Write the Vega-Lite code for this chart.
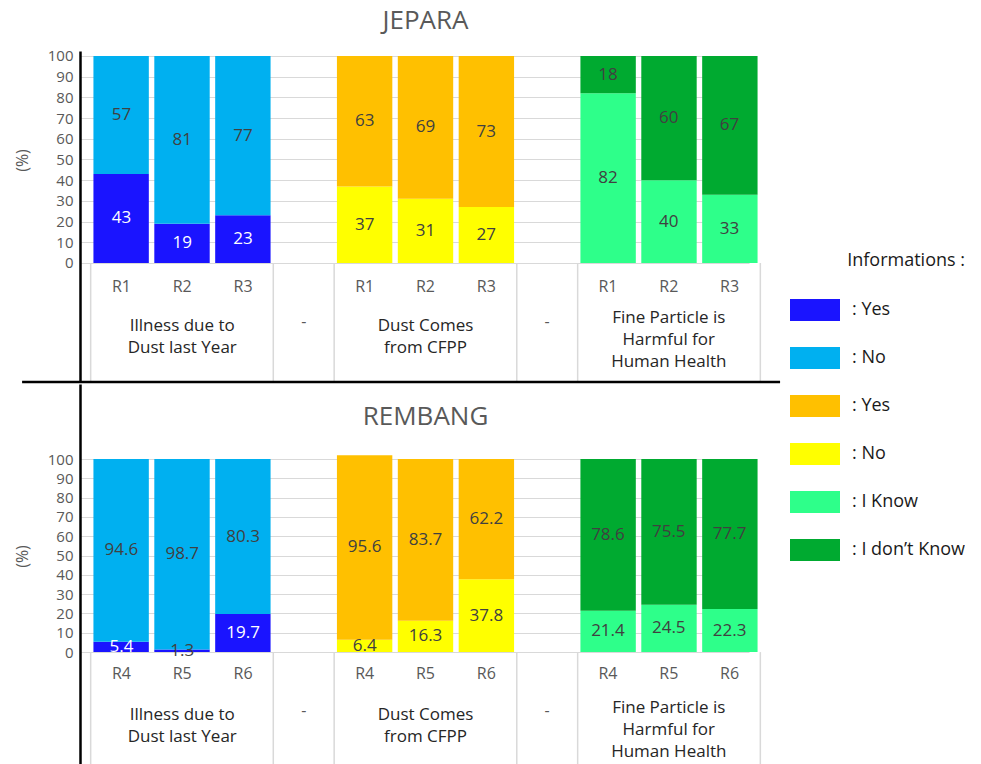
{
  "$schema": "https://vega.github.io/schema/vega-lite/v6.json",
  "padding": {"left": 14, "top": 7, "right": 0, "bottom": 0},
  "spacing": 0,
  "datasets": {
    "bars": [
      {"panel": "JEPARA", "slot": "Illness 1", "site": "R1", "answer": "Illness: Yes", "segment": "bottom", "value": 43},
      {"panel": "JEPARA", "slot": "Illness 1", "site": "R1", "answer": "Illness: No", "segment": "top", "value": 57},
      {"panel": "JEPARA", "slot": "Illness 2", "site": "R2", "answer": "Illness: Yes", "segment": "bottom", "value": 19},
      {"panel": "JEPARA", "slot": "Illness 2", "site": "R2", "answer": "Illness: No", "segment": "top", "value": 81},
      {"panel": "JEPARA", "slot": "Illness 3", "site": "R3", "answer": "Illness: Yes", "segment": "bottom", "value": 23},
      {"panel": "JEPARA", "slot": "Illness 3", "site": "R3", "answer": "Illness: No", "segment": "top", "value": 77},
      {"panel": "JEPARA", "slot": "CFPP 1", "site": "R1", "answer": "CFPP: No", "segment": "bottom", "value": 37},
      {"panel": "JEPARA", "slot": "CFPP 1", "site": "R1", "answer": "CFPP: Yes", "segment": "top", "value": 63},
      {"panel": "JEPARA", "slot": "CFPP 2", "site": "R2", "answer": "CFPP: No", "segment": "bottom", "value": 31},
      {"panel": "JEPARA", "slot": "CFPP 2", "site": "R2", "answer": "CFPP: Yes", "segment": "top", "value": 69},
      {"panel": "JEPARA", "slot": "CFPP 3", "site": "R3", "answer": "CFPP: No", "segment": "bottom", "value": 27},
      {"panel": "JEPARA", "slot": "CFPP 3", "site": "R3", "answer": "CFPP: Yes", "segment": "top", "value": 73},
      {"panel": "JEPARA", "slot": "Health 1", "site": "R1", "answer": "Health: I Know", "segment": "bottom", "value": 82},
      {"panel": "JEPARA", "slot": "Health 1", "site": "R1", "answer": "Health: I don’t Know", "segment": "top", "value": 18},
      {"panel": "JEPARA", "slot": "Health 2", "site": "R2", "answer": "Health: I Know", "segment": "bottom", "value": 40},
      {"panel": "JEPARA", "slot": "Health 2", "site": "R2", "answer": "Health: I don’t Know", "segment": "top", "value": 60},
      {"panel": "JEPARA", "slot": "Health 3", "site": "R3", "answer": "Health: I Know", "segment": "bottom", "value": 33},
      {"panel": "JEPARA", "slot": "Health 3", "site": "R3", "answer": "Health: I don’t Know", "segment": "top", "value": 67},
      {"panel": "REMBANG", "slot": "Illness 1", "site": "R4", "answer": "Illness: Yes", "segment": "bottom", "value": 5.4},
      {"panel": "REMBANG", "slot": "Illness 1", "site": "R4", "answer": "Illness: No", "segment": "top", "value": 94.6},
      {"panel": "REMBANG", "slot": "Illness 2", "site": "R5", "answer": "Illness: Yes", "segment": "bottom", "value": 1.3},
      {"panel": "REMBANG", "slot": "Illness 2", "site": "R5", "answer": "Illness: No", "segment": "top", "value": 98.7},
      {"panel": "REMBANG", "slot": "Illness 3", "site": "R6", "answer": "Illness: Yes", "segment": "bottom", "value": 19.7},
      {"panel": "REMBANG", "slot": "Illness 3", "site": "R6", "answer": "Illness: No", "segment": "top", "value": 80.3},
      {"panel": "REMBANG", "slot": "CFPP 1", "site": "R4", "answer": "CFPP: No", "segment": "bottom", "value": 6.4},
      {"panel": "REMBANG", "slot": "CFPP 1", "site": "R4", "answer": "CFPP: Yes", "segment": "top", "value": 95.6},
      {"panel": "REMBANG", "slot": "CFPP 2", "site": "R5", "answer": "CFPP: No", "segment": "bottom", "value": 16.3},
      {"panel": "REMBANG", "slot": "CFPP 2", "site": "R5", "answer": "CFPP: Yes", "segment": "top", "value": 83.7},
      {"panel": "REMBANG", "slot": "CFPP 3", "site": "R6", "answer": "CFPP: No", "segment": "bottom", "value": 37.8},
      {"panel": "REMBANG", "slot": "CFPP 3", "site": "R6", "answer": "CFPP: Yes", "segment": "top", "value": 62.2},
      {"panel": "REMBANG", "slot": "Health 1", "site": "R4", "answer": "Health: I Know", "segment": "bottom", "value": 21.4},
      {"panel": "REMBANG", "slot": "Health 1", "site": "R4", "answer": "Health: I don’t Know", "segment": "top", "value": 78.6},
      {"panel": "REMBANG", "slot": "Health 2", "site": "R5", "answer": "Health: I Know", "segment": "bottom", "value": 24.5},
      {"panel": "REMBANG", "slot": "Health 2", "site": "R5", "answer": "Health: I don’t Know", "segment": "top", "value": 75.5},
      {"panel": "REMBANG", "slot": "Health 3", "site": "R6", "answer": "Health: I Know", "segment": "bottom", "value": 22.3},
      {"panel": "REMBANG", "slot": "Health 3", "site": "R6", "answer": "Health: I don’t Know", "segment": "top", "value": 77.7}
    ],
    "groups": [
      {"slot": "Illness 2", "label": "Illness due to\nDust last Year"},
      {"slot": "CFPP 2", "label": "Dust Comes\nfrom CFPP"},
      {"slot": "Health 2", "label": "Fine Particle is\nHarmful for\nHuman Health"}
    ],
    "gaps": [
      {"slot": "gap1", "label": "-"},
      {"slot": "gap2", "label": "-"}
    ],
    "seps": [
      {"slot": "Illness 1", "edge": "start"},
      {"slot": "gap1", "edge": "start"},
      {"slot": "CFPP 1", "edge": "start"},
      {"slot": "gap2", "edge": "start"},
      {"slot": "Health 1", "edge": "start"},
      {"slot": "Health 3", "edge": "end"}
    ]
  },
  "vconcat": [
    {
      "title": {"text": "JEPARA"},
      "width": 669,
      "height": 331,
      "resolve": {"scale": {"x": "independent"}},
      "layer": [
        {
          "data": {"name": "bars"},
          "transform": [{"filter": "datum.panel === 'JEPARA'"}],
          "mark": {"type": "bar"},
          "encoding": {
            "x": {"field": "slot", "type": "nominal", "axis": null, "scale": {"domain": ["Illness 1","Illness 2","Illness 3","gap1","CFPP 1","CFPP 2","CFPP 3","gap2","Health 1","Health 2","Health 3"], "paddingInner": 0.09, "paddingOuter": 0.04}},
            "y": {"field": "value", "type": "quantitative", "stack": "zero", "scale": {"domain": [-57.5, 102.4], "nice": false, "zero": false}, "axis": {"title": "(%)", "values": [0,10,20,30,40,50,60,70,80,90,100], "titleX": -58, "titleY": 109}},
            "color": {"field": "answer", "type": "nominal", "scale": {"domain": ["Illness: Yes","Illness: No","CFPP: Yes","CFPP: No","Health: I Know","Health: I don’t Know"], "range": ["#1a14ff","#00b0f0","#ffc000","#ffff00","#2eff8a","#00aa30"]}, "legend": {"title": "Informations :", "orient": "none", "legendX": 699, "legendY": 201, "labelExpr": "': ' + split(datum.label, ': ')[1]"}},
            "order": {"field": "segment", "type": "nominal", "sort": "ascending"}
          }
        },
        {
          "data": {"name": "bars"},
          "transform": [{"filter": "datum.panel === 'JEPARA'"}],
          "mark": {"type": "text", "baseline": "middle", "fontSize": 17},
          "encoding": {
            "x": {"field": "slot", "type": "nominal", "axis": null, "scale": {"domain": ["Illness 1","Illness 2","Illness 3","gap1","CFPP 1","CFPP 2","CFPP 3","gap2","Health 1","Health 2","Health 3"], "paddingInner": 0.09, "paddingOuter": 0.04}},
            "y": {"field": "value", "type": "quantitative", "stack": "zero", "bandPosition": 0.5, "axis": {"title": "(%)", "values": [0,10,20,30,40,50,60,70,80,90,100], "titleX": -58, "titleY": 109}},
            "detail": {"field": "answer", "type": "nominal"},
            "order": {"field": "segment", "type": "nominal", "sort": "ascending"},
            "text": {"field": "value", "type": "quantitative"},
            "color": {"condition": {"test": "datum.answer === 'Illness: Yes' && datum.value > 2", "value": "#ffffff"}, "value": "#404040"}
          }
        },
        {
          "data": {"name": "bars"},
          "transform": [{"filter": "datum.panel === 'JEPARA' && datum.segment === 'bottom'"}],
          "mark": {"type": "text", "baseline": "middle", "fontSize": 16, "color": "#595959", "dy": 24},
          "encoding": {
            "x": {"field": "slot", "type": "nominal", "axis": null, "scale": {"domain": ["Illness 1","Illness 2","Illness 3","gap1","CFPP 1","CFPP 2","CFPP 3","gap2","Health 1","Health 2","Health 3"], "paddingInner": 0.09, "paddingOuter": 0.04}},
            "y": {"datum": 0, "axis": {"title": "(%)", "values": [0,10,20,30,40,50,60,70,80,90,100], "titleX": -58, "titleY": 109}},
            "text": {"field": "site", "type": "nominal"}
          }
        },
        {
          "data": {"name": "groups"},
          "transform": [{"filter": "datum.slot !== 'Health 2'"}],
          "mark": {"type": "text", "baseline": "middle", "fontSize": 17, "color": "#262626", "dy": 63, "lineBreak": "\n", "lineHeight": 22},
          "encoding": {
            "x": {"field": "slot", "type": "nominal", "axis": null, "scale": {"domain": ["Illness 1","Illness 2","Illness 3","gap1","CFPP 1","CFPP 2","CFPP 3","gap2","Health 1","Health 2","Health 3"], "paddingInner": 0.09, "paddingOuter": 0.04}},
            "y": {"datum": 0, "axis": {"title": "(%)", "values": [0,10,20,30,40,50,60,70,80,90,100], "titleX": -58, "titleY": 109}},
            "text": {"field": "label", "type": "nominal"}
          }
        },
        {
          "data": {"name": "groups"},
          "transform": [{"filter": "datum.slot === 'Health 2'"}],
          "mark": {"type": "text", "baseline": "middle", "fontSize": 17, "color": "#262626", "dy": 55, "lineBreak": "\n", "lineHeight": 22},
          "encoding": {
            "x": {"field": "slot", "type": "nominal", "axis": null, "scale": {"domain": ["Illness 1","Illness 2","Illness 3","gap1","CFPP 1","CFPP 2","CFPP 3","gap2","Health 1","Health 2","Health 3"], "paddingInner": 0.09, "paddingOuter": 0.04}},
            "y": {"datum": 0, "axis": {"title": "(%)", "values": [0,10,20,30,40,50,60,70,80,90,100], "titleX": -58, "titleY": 109}},
            "text": {"field": "label", "type": "nominal"}
          }
        },
        {
          "data": {"name": "gaps"},
          "mark": {"type": "text", "baseline": "middle", "fontSize": 16, "color": "#595959", "dy": 59},
          "encoding": {
            "x": {"field": "slot", "type": "nominal", "axis": null, "scale": {"domain": ["Illness 1","Illness 2","Illness 3","gap1","CFPP 1","CFPP 2","CFPP 3","gap2","Health 1","Health 2","Health 3"], "paddingInner": 0.09, "paddingOuter": 0.04}},
            "y": {"datum": 0, "axis": {"title": "(%)", "values": [0,10,20,30,40,50,60,70,80,90,100], "titleX": -58, "titleY": 109}},
            "text": {"field": "label", "type": "nominal"}
          }
        },
        {
          "data": {"name": "seps"},
          "transform": [{"filter": "datum.edge === 'start'"}],
          "mark": {"type": "rule", "color": "#d9d9d9", "strokeWidth": 1.5},
          "encoding": {
            "x": {"field": "slot", "type": "nominal", "bandPosition": -0.05, "axis": null, "scale": {"domain": ["Illness 1","Illness 2","Illness 3","gap1","CFPP 1","CFPP 2","CFPP 3","gap2","Health 1","Health 2","Health 3"], "paddingInner": 0.09, "paddingOuter": 0.04}},
            "y": {"datum": 0, "axis": {"title": "(%)", "values": [0,10,20,30,40,50,60,70,80,90,100], "titleX": -58, "titleY": 109}},
            "y2": {"value": "height"}
          }
        },
        {
          "data": {"name": "seps"},
          "transform": [{"filter": "datum.edge === 'end'"}],
          "mark": {"type": "rule", "color": "#d9d9d9", "strokeWidth": 1.5},
          "encoding": {
            "x": {"field": "slot", "type": "nominal", "bandPosition": 1.05, "axis": null, "scale": {"domain": ["Illness 1","Illness 2","Illness 3","gap1","CFPP 1","CFPP 2","CFPP 3","gap2","Health 1","Health 2","Health 3"], "paddingInner": 0.09, "paddingOuter": 0.04}},
            "y": {"datum": 0, "axis": {"title": "(%)", "values": [0,10,20,30,40,50,60,70,80,90,100], "titleX": -58, "titleY": 109}},
            "y2": {"value": "height"}
          }
        },
        {
          "data": {"values": [{"line": "divider"}]},
          "mark": {"type": "rule", "color": "#000000", "strokeWidth": 2.5, "clip": false},
          "encoding": {
            "x": {"datum": -0.103, "type": "quantitative", "scale": {"domain": [0, 1], "nice": false, "zero": false}, "axis": null},
            "x2": {"datum": 1.03},
            "y": {"value": "height"}
          }
        }
      ]
    },
    {
      "width": 669,
      "height": 381,
      "resolve": {"scale": {"x": "independent"}},
      "layer": [
        {
          "data": {"name": "bars"},
          "transform": [{"filter": "datum.panel === 'REMBANG'"}],
          "mark": {"type": "bar"},
          "encoding": {
            "x": {"field": "slot", "type": "nominal", "axis": null, "scale": {"domain": ["Illness 1","Illness 2","Illness 3","gap1","CFPP 1","CFPP 2","CFPP 3","gap2","Health 1","Health 2","Health 3"], "paddingInner": 0.09, "paddingOuter": 0.04}},
            "y": {"field": "value", "type": "quantitative", "stack": "zero", "scale": {"domain": [-58.5, 138.9], "nice": false, "zero": false}, "axis": {"title": "(%)", "values": [0,10,20,30,40,50,60,70,80,90,100], "titleX": -58, "titleY": 172}},
            "color": {"field": "answer", "type": "nominal", "scale": {"domain": ["Illness: Yes","Illness: No","CFPP: Yes","CFPP: No","Health: I Know","Health: I don’t Know"], "range": ["#1a14ff","#00b0f0","#ffc000","#ffff00","#2eff8a","#00aa30"]}, "legend": {"title": "Informations :", "orient": "none", "legendX": 699, "legendY": 201, "labelExpr": "': ' + split(datum.label, ': ')[1]"}},
            "order": {"field": "segment", "type": "nominal", "sort": "ascending"}
          }
        },
        {
          "data": {"name": "bars"},
          "transform": [{"filter": "datum.panel === 'REMBANG'"}],
          "mark": {"type": "text", "baseline": "middle", "fontSize": 17},
          "encoding": {
            "x": {"field": "slot", "type": "nominal", "axis": null, "scale": {"domain": ["Illness 1","Illness 2","Illness 3","gap1","CFPP 1","CFPP 2","CFPP 3","gap2","Health 1","Health 2","Health 3"], "paddingInner": 0.09, "paddingOuter": 0.04}},
            "y": {"field": "value", "type": "quantitative", "stack": "zero", "bandPosition": 0.5, "axis": {"title": "(%)", "values": [0,10,20,30,40,50,60,70,80,90,100], "titleX": -58, "titleY": 172}},
            "detail": {"field": "answer", "type": "nominal"},
            "order": {"field": "segment", "type": "nominal", "sort": "ascending"},
            "text": {"field": "value", "type": "quantitative"},
            "color": {"condition": {"test": "datum.answer === 'Illness: Yes' && datum.value > 2", "value": "#ffffff"}, "value": "#404040"}
          }
        },
        {
          "data": {"name": "bars"},
          "transform": [{"filter": "datum.panel === 'REMBANG' && datum.segment === 'bottom'"}],
          "mark": {"type": "text", "baseline": "middle", "fontSize": 16, "color": "#595959", "dy": 22},
          "encoding": {
            "x": {"field": "slot", "type": "nominal", "axis": null, "scale": {"domain": ["Illness 1","Illness 2","Illness 3","gap1","CFPP 1","CFPP 2","CFPP 3","gap2","Health 1","Health 2","Health 3"], "paddingInner": 0.09, "paddingOuter": 0.04}},
            "y": {"datum": 0, "axis": {"title": "(%)", "values": [0,10,20,30,40,50,60,70,80,90,100], "titleX": -58, "titleY": 172}},
            "text": {"field": "site", "type": "nominal"}
          }
        },
        {
          "data": {"name": "groups"},
          "transform": [{"filter": "datum.slot !== 'Health 2'"}],
          "mark": {"type": "text", "baseline": "middle", "fontSize": 17, "color": "#262626", "dy": 63, "lineBreak": "\n", "lineHeight": 22},
          "encoding": {
            "x": {"field": "slot", "type": "nominal", "axis": null, "scale": {"domain": ["Illness 1","Illness 2","Illness 3","gap1","CFPP 1","CFPP 2","CFPP 3","gap2","Health 1","Health 2","Health 3"], "paddingInner": 0.09, "paddingOuter": 0.04}},
            "y": {"datum": 0, "axis": {"title": "(%)", "values": [0,10,20,30,40,50,60,70,80,90,100], "titleX": -58, "titleY": 172}},
            "text": {"field": "label", "type": "nominal"}
          }
        },
        {
          "data": {"name": "groups"},
          "transform": [{"filter": "datum.slot === 'Health 2'"}],
          "mark": {"type": "text", "baseline": "middle", "fontSize": 17, "color": "#262626", "dy": 56, "lineBreak": "\n", "lineHeight": 22},
          "encoding": {
            "x": {"field": "slot", "type": "nominal", "axis": null, "scale": {"domain": ["Illness 1","Illness 2","Illness 3","gap1","CFPP 1","CFPP 2","CFPP 3","gap2","Health 1","Health 2","Health 3"], "paddingInner": 0.09, "paddingOuter": 0.04}},
            "y": {"datum": 0, "axis": {"title": "(%)", "values": [0,10,20,30,40,50,60,70,80,90,100], "titleX": -58, "titleY": 172}},
            "text": {"field": "label", "type": "nominal"}
          }
        },
        {
          "data": {"name": "gaps"},
          "mark": {"type": "text", "baseline": "middle", "fontSize": 16, "color": "#595959", "dy": 59},
          "encoding": {
            "x": {"field": "slot", "type": "nominal", "axis": null, "scale": {"domain": ["Illness 1","Illness 2","Illness 3","gap1","CFPP 1","CFPP 2","CFPP 3","gap2","Health 1","Health 2","Health 3"], "paddingInner": 0.09, "paddingOuter": 0.04}},
            "y": {"datum": 0, "axis": {"title": "(%)", "values": [0,10,20,30,40,50,60,70,80,90,100], "titleX": -58, "titleY": 172}},
            "text": {"field": "label", "type": "nominal"}
          }
        },
        {
          "data": {"name": "seps"},
          "transform": [{"filter": "datum.edge === 'start'"}],
          "mark": {"type": "rule", "color": "#d9d9d9", "strokeWidth": 1.5},
          "encoding": {
            "x": {"field": "slot", "type": "nominal", "bandPosition": -0.05, "axis": null, "scale": {"domain": ["Illness 1","Illness 2","Illness 3","gap1","CFPP 1","CFPP 2","CFPP 3","gap2","Health 1","Health 2","Health 3"], "paddingInner": 0.09, "paddingOuter": 0.04}},
            "y": {"datum": 0, "axis": {"title": "(%)", "values": [0,10,20,30,40,50,60,70,80,90,100], "titleX": -58, "titleY": 172}},
            "y2": {"value": "height"}
          }
        },
        {
          "data": {"name": "seps"},
          "transform": [{"filter": "datum.edge === 'end'"}],
          "mark": {"type": "rule", "color": "#d9d9d9", "strokeWidth": 1.5},
          "encoding": {
            "x": {"field": "slot", "type": "nominal", "bandPosition": 1.05, "axis": null, "scale": {"domain": ["Illness 1","Illness 2","Illness 3","gap1","CFPP 1","CFPP 2","CFPP 3","gap2","Health 1","Health 2","Health 3"], "paddingInner": 0.09, "paddingOuter": 0.04}},
            "y": {"datum": 0, "axis": {"title": "(%)", "values": [0,10,20,30,40,50,60,70,80,90,100], "titleX": -58, "titleY": 172}},
            "y2": {"value": "height"}
          }
        },
        {
          "data": {"values": [{"name": "REMBANG"}]},
          "mark": {"type": "text", "baseline": "middle", "fontSize": 26, "color": "#595959"},
          "encoding": {
            "y": {"datum": 121.8, "axis": {"title": "(%)", "values": [0,10,20,30,40,50,60,70,80,90,100], "titleX": -58, "titleY": 172}},
            "text": {"field": "name", "type": "nominal"}
          }
        }
      ]
    }
  ],
  "resolve": {"scale": {"color": "shared"}},
  "config": {
    "view": {"stroke": null},
    "font": "Open Sans",
    "text": {"font": "Open Sans"},
    "axisY": {
      "ticks": false,
      "labelPadding": 7,
      "offset": 11,
      "domainColor": "#000000",
      "domainWidth": 2.5,
      "gridColor": "#d9d9d9",
      "gridWidth": 1,
      "labelFont": "Open Sans",
      "labelFontSize": 15,
      "labelColor": "#595959",
      "labelOverlap": false,
      "titleFont": "Open Sans",
      "titleFontSize": 16,
      "titleFontWeight": "normal",
      "titleColor": "#595959",
      "titleBaseline": "middle",
      "titleAlign": "center"
    },
    "title": {
      "font": "Open Sans",
      "fontSize": 26,
      "fontWeight": "normal",
      "color": "#595959",
      "anchor": "middle",
      "baseline": "middle",
      "offset": 15
    },
    "legend": {
      "titleFont": "Open Sans",
      "titleFontSize": 18,
      "titleFontWeight": "normal",
      "titleColor": "#1a1a1a",
      "titleAnchor": "end",
      "titlePadding": 15,
      "labelFont": "Open Sans",
      "labelFontSize": 18,
      "labelColor": "#1a1a1a",
      "labelLimit": 300,
      "labelOffset": 12,
      "symbolType": "M-1,-0.44H1V0.44H-1Z",
      "symbolSize": 2500,
      "symbolStrokeWidth": 0,
      "symbolOpacity": 1,
      "rowPadding": 12
    }
  }
}
